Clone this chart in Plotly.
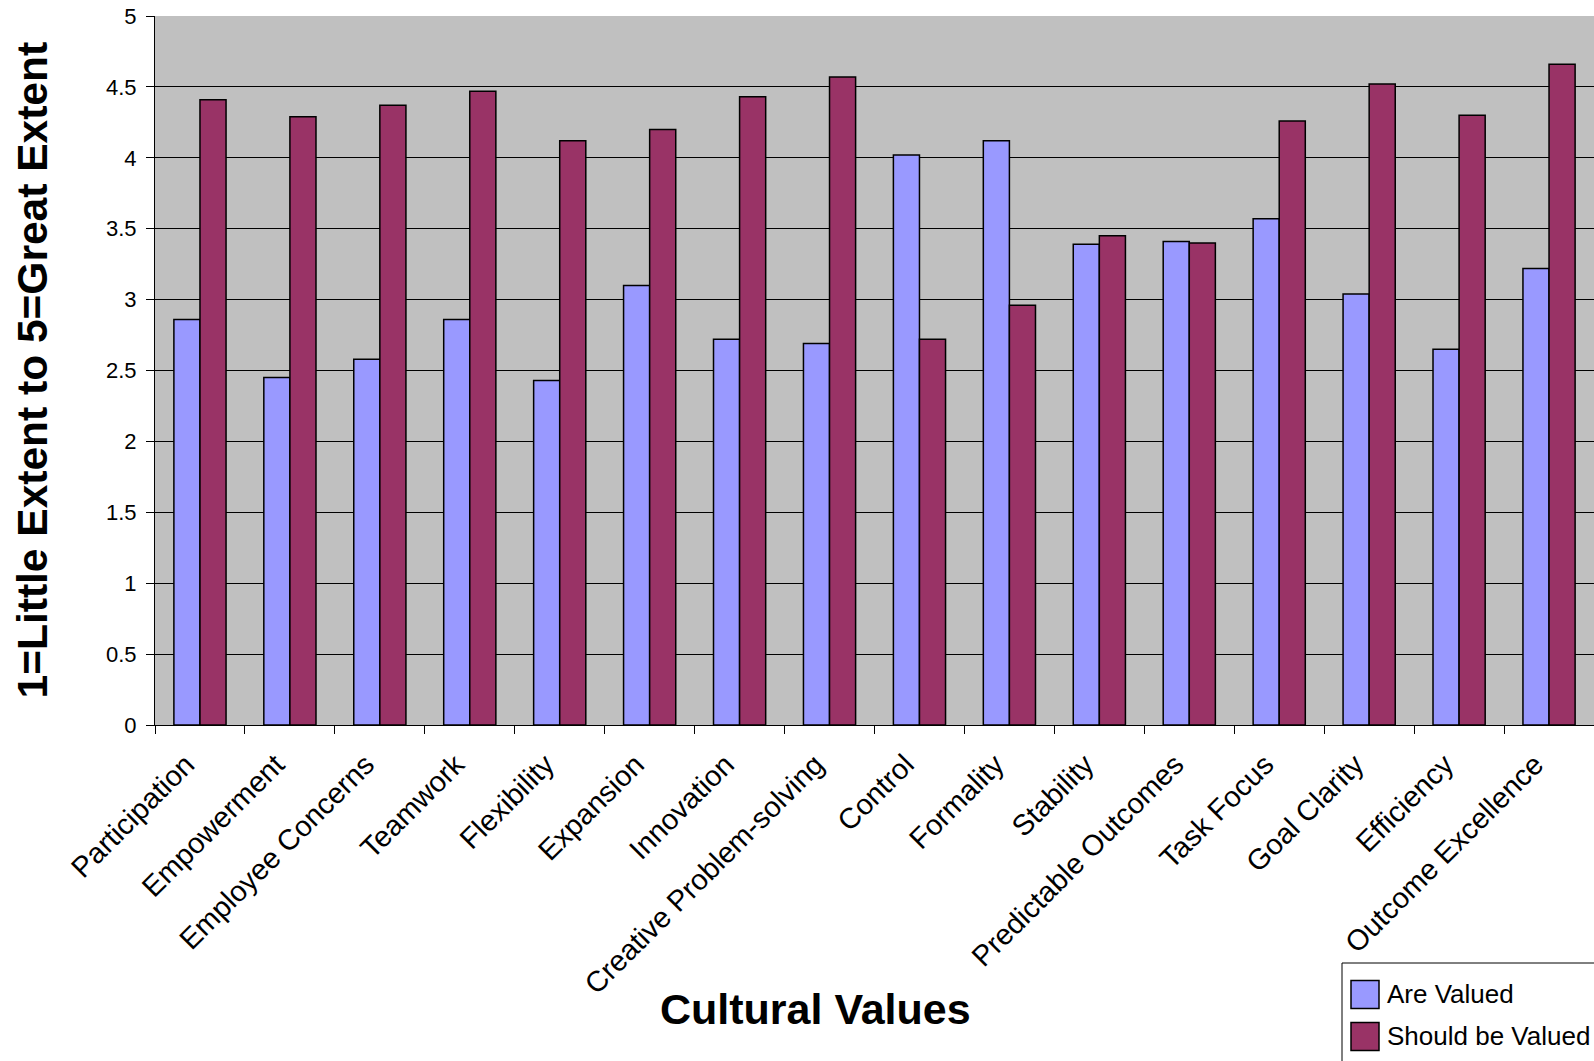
import plotly.graph_objects as go

# ---- data -------------------------------------------------------------
categories = [
    "Participation", "Empowerment", "Employee Concerns", "Teamwork",
    "Flexibility", "Expansion", "Innovation", "Creative Problem-solving",
    "Control", "Formality", "Stability", "Predictable Outcomes",
    "Task Focus", "Goal Clarity", "Efficiency", "Outcome Excellence",
]
are_valued = [2.86, 2.45, 2.58, 2.86, 2.43, 3.10, 2.72, 2.69,
              4.02, 4.12, 3.39, 3.41, 3.57, 3.04, 2.65, 3.22]
should_be_valued = [4.41, 4.29, 4.37, 4.47, 4.12, 4.20, 4.43, 4.57,
                    2.72, 2.96, 3.45, 3.40, 4.26, 4.52, 4.30, 4.66]
series_names = ["Are Valued", "Should be Valued"]
series_colors = ["#9999FF", "#993366"]
y_tick_vals = [0, 0.5, 1, 1.5, 2, 2.5, 3, 3.5, 4, 4.5, 5]
y_tick_text = ["0", "0.5", "1", "1.5", "2", "2.5", "3", "3.5", "4", "4.5", "5"]
x_title = "Cultural Values"
y_title = "1=Little Extent to 5=Great Extent"

# ---- page geometry ----------------------------------------------------
W, H = 1594, 1061
ML, MR, MT, MB = 155, 0, 16, 336
PW, PH = W - ML - MR, H - MT - MB
FONT = "Arial, 'Liberation Sans', sans-serif"


def px_x(px):
    """Pixel column -> paper x."""
    return (px - ML) / PW


def px_y(py):
    """Pixel row -> paper y."""
    return (MT + PH - py) / PH


fig = go.Figure()
for name, vals, color in zip(series_names, [are_valued, should_be_valued], series_colors):
    fig.add_trace(go.Bar(
        x=categories, y=vals, name=name,
        marker=dict(color=color, line=dict(color="black", width=1.5)),
        showlegend=False,
    ))

# legend box, drawn in page space so it can run off the right edge
shapes = [dict(type="rect", xref="paper", yref="paper",
               x0=px_x(1342), x1=px_x(1610), y0=px_y(963), y1=px_y(1080),
               line=dict(color="black", width=1), fillcolor="white", layer="above")]
annotations = []
row_centers = [994.5, 1036.5]
for name, color, cy in zip(series_names, series_colors, row_centers):
    shapes.append(dict(type="rect", xref="paper", yref="paper",
                       x0=px_x(1351), x1=px_x(1379), y0=px_y(cy - 14), y1=px_y(cy + 14),
                       line=dict(color="black", width=1.5), fillcolor=color, layer="above"))
    annotations.append(dict(text=name, xref="paper", yref="paper",
                            x=px_x(1385), y=px_y(cy - 1), xanchor="left", yanchor="middle",
                            showarrow=False, font=dict(family=FONT, size=26, color="black")))

annotations.append(dict(text=f"<b>{y_title}</b>", xref="paper", yref="paper",
                        x=px_x(32), y=0.5, textangle=-90, xanchor="center", yanchor="middle",
                        showarrow=False, font=dict(family=FONT, size=42.5, color="black")))
annotations.append(dict(text=f"<b>{x_title}</b>", xref="paper", yref="paper",
                        x=px_x(815), y=px_y(1009), xanchor="center", yanchor="middle",
                        showarrow=False, font=dict(family=FONT, size=43, color="black")))

fig.update_layout(
    width=W, height=H,
    margin=dict(l=ML, r=MR, t=MT, b=MB, autoexpand=False),
    paper_bgcolor="white", plot_bgcolor="#C0C0C0",
    barmode="group", bargap=0.42, bargroupgap=0,
    font=dict(family=FONT, color="black"),
    shapes=shapes, annotations=annotations,
    showlegend=False,
    xaxis=dict(
        type="category", range=[-0.5, 15.5],
        showline=True, linecolor="black", linewidth=1,
        ticks="outside", tickson="boundaries", ticklen=8, tickcolor="black",
        tickangle=-45, tickfont=dict(size=29, family=FONT, color="black"),
        ticklabelshift=-14, ticklabelstandoff=10,
        showgrid=False, automargin=False,
    ),
    yaxis=dict(
        range=[0, 5], tickvals=y_tick_vals, ticktext=y_tick_text,
        showline=True, linecolor="black", linewidth=1,
        ticks="outside", ticklen=8, tickcolor="black",
        tickfont=dict(size=22, family=FONT, color="black"),
        ticklabelstandoff=5,
        showgrid=True, gridcolor="black", gridwidth=1,
        zeroline=False, automargin=False,
    ),
)

fig.write_html("out.html")
